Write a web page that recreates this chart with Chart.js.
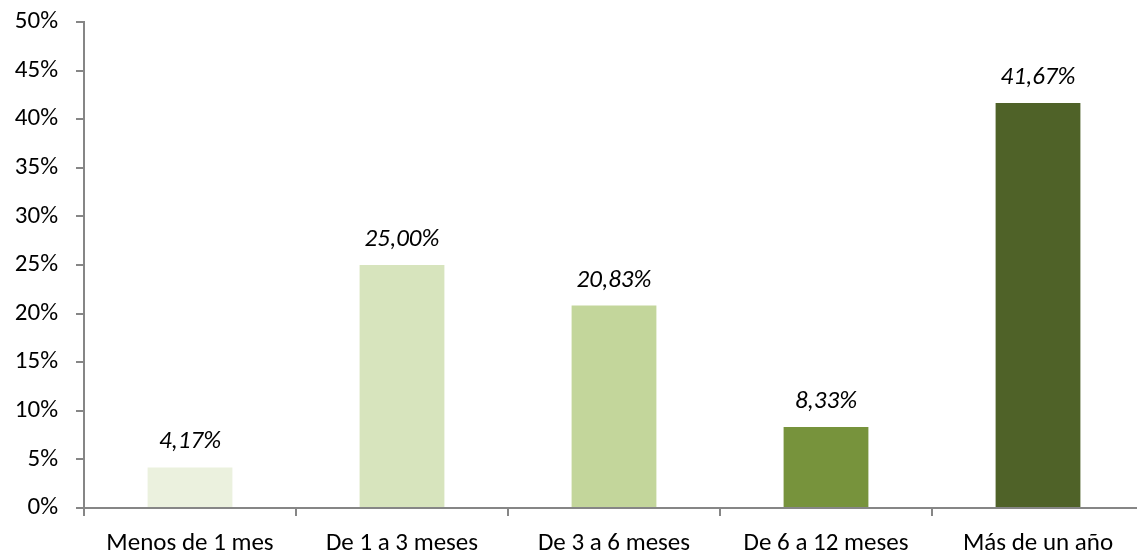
<!DOCTYPE html>
<html>
<head>
<meta charset="utf-8">
<script src="https://cdn.jsdelivr.net/npm/chart.js@4"></script>
<style>
html,body{margin:0;padding:0;background:#fff;overflow:hidden;}
canvas{display:block;}
</style>
</head>
<body>
<canvas id="c" width="1146" height="554"></canvas>
<script>
const categories = ["Menos de 1 mes", "De 1 a 3 meses", "De 3 a 6 meses", "De 6 a 12 meses", "Más de un año"];
const values = [4.17, 25.00, 20.83, 8.33, 41.67];
const barColors = ["#EBF1DE", "#D7E4BD", "#C3D69B", "#77933C", "#4F6228"];
const yTicks = [0, 5, 10, 15, 20, 25, 30, 35, 40, 45, 50];

const FONT = "Carlito, Lato, 'Open Sans', sans-serif";
const AXIS = "#868686";

const labelPlugin = {
  id: "valueLabels",
  afterDatasetsDraw(chart) {
    const ctx = chart.ctx;
    const meta = chart.getDatasetMeta(0);
    ctx.save();
    ctx.font = "italic 25px " + FONT;
    ctx.fillStyle = "#000";
    ctx.textAlign = "center";
    ctx.textBaseline = "alphabetic";
    meta.data.forEach((bar, i) => {
      const txt = values[i].toFixed(2).replace(".", ",") + "%";
      ctx.fillText(txt, bar.x, bar.y - 19);
    });
    ctx.restore();
  }
};

new Chart(document.getElementById("c"), {
  type: "bar",
  data: {
    labels: categories,
    datasets: [{
      data: values,
      backgroundColor: barColors,
      borderWidth: 0,
      barPercentage: 0.4,
      categoryPercentage: 1.0
    }]
  },
  options: {
    responsive: false,
    animation: false,
    layout: { padding: { top: 22, right: 2, left: 0, bottom: 0 } },
    plugins: { legend: { display: false }, tooltip: { enabled: false } },
    scales: {
      x: {
        grid: { display: true, drawOnChartArea: false, drawTicks: true, tickLength: 8, color: AXIS, lineWidth: 2, offset: true },
        border: { display: true, color: AXIS, width: 2 },
        ticks: { color: "#000", font: { family: FONT, size: 25 }, padding: 13, maxRotation: 0, autoSkip: false },
        afterFit(s) { s.height = 46; s.paddingLeft = 0; s.paddingRight = 0; }
      },
      y: {
        min: 0, max: 50,
        afterBuildTicks(s) { s.ticks = yTicks.map(v => ({ value: v })); },
        grid: { display: true, drawOnChartArea: false, drawTicks: true, tickLength: 8, color: AXIS, lineWidth: 2 },
        border: { display: true, color: AXIS, width: 2 },
        ticks: { color: "#000", font: { family: FONT, size: 25 }, padding: 18, callback: v => v + "%" },
        afterFit(s) { s.width = 84; s.paddingTop = 0; s.paddingBottom = 0; }
      }
    }
  },
  plugins: [labelPlugin]
});
</script>
</body>
</html>
